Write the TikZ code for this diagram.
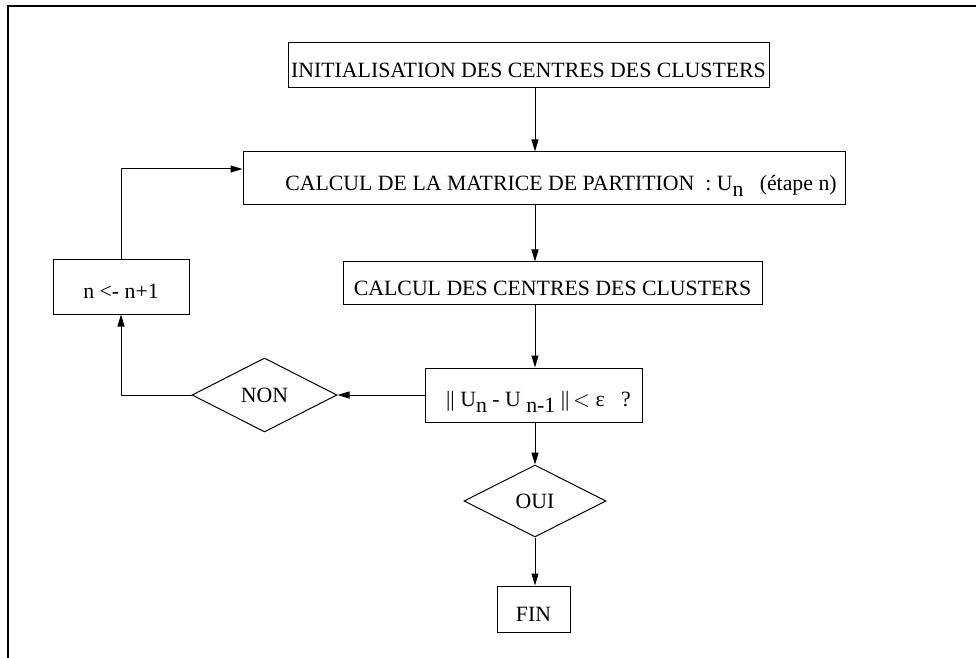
\documentclass[tikz,border=0pt]{standalone}
\usepackage{fontspec}
\setmainfont{Liberation Serif}
\usetikzlibrary{arrows.meta,shapes.geometric}

\newcommand{\indice}[1]{\raisebox{-0.55ex}{#1}}

\begin{document}
\begin{tikzpicture}[x=0.5pt, y=-0.5pt,
    boite/.style={draw, line width=0.5pt, inner sep=0pt, text height=12pt, text depth=0pt,
        font=\fontsize{10.9}{13}\selectfont},
    losange/.style={draw, diamond, line width=0.5pt, inner sep=0pt,
        font=\fontsize{10.9}{13}\selectfont},
    fleche/.style={line width=0.5pt, -{Triangle[length=6pt,width=3.5pt]}}]
    \useasboundingbox (0,0) rectangle (976,658);
    % cadre
    \draw[line width=1pt] (976,6) -- (8,6) -- (8,658);
    \coordinate (axe) at (535,0);
    \node[boite, minimum width=240.5pt, minimum height=22.5pt] (init) at (528.5,65.5)
        {INITIALISATION DES CENTRES DES CLUSTERS};
    \node[boite, minimum width=301pt, minimum height=26.5pt] (matrice) at (544,178.5)
        {\hspace*{17pt}CALCUL DE LA MATRICE DE PARTITION~~: U\indice{n}~~~(étape n)};
    \node[boite, minimum width=209.5pt, minimum height=21.5pt] (centres) at (552.5,283.5)
        {CALCUL DES CENTRES DES CLUSTERS};
    \node[boite, minimum width=108.5pt, minimum height=27pt] (test) at (533.5,395)
        {\hspace*{5pt}|| U\indice{n} - U \indice{n-1} ||$\,<$ ε~~~?};
    \node[losange, minimum width=72.5pt, minimum height=37pt] (non) at (264.5,395) {NON};
    \node[boite, minimum width=68pt, minimum height=27pt] (incr) at (121,287) {n <- n+1};
    \node[losange, minimum width=71pt, minimum height=36pt] (oui) at (535,501) {OUI};
    \node[boite, minimum width=36.5pt, minimum height=23pt] (fin) at (533.5,609) {FIN};
    % liaisons
    \draw[fleche] (init.south -| axe) -- (matrice.north -| axe);
    \draw[fleche] (matrice.south -| axe) -- (centres.north -| axe);
    \draw[fleche] (centres.south -| axe) -- (test.north -| axe);
    \draw[fleche] (test.west) -- (non.east);
    \draw[fleche] (non.west) -| (incr.south);
    \draw[fleche] (incr.north) |- ([yshift=4.75pt]matrice.west);
    \draw[fleche] (test.south -| axe) -- (oui.north);
    \draw[fleche] (oui.south) -- (fin.north -| oui.south);
\end{tikzpicture}
\end{document}
